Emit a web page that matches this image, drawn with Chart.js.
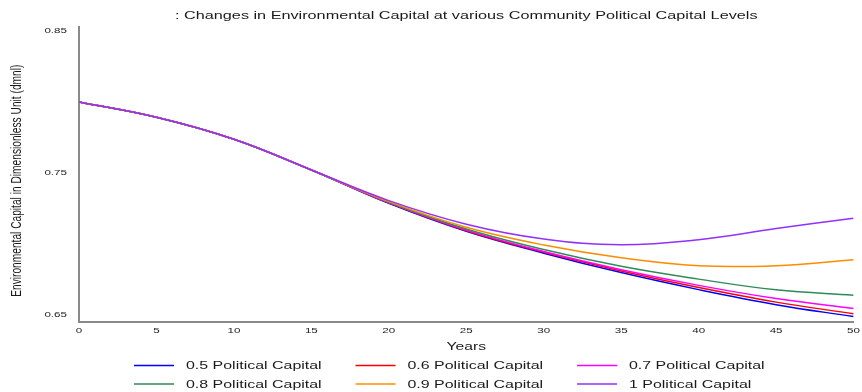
<!DOCTYPE html>
<html>
<head>
<meta charset="utf-8">
<script src="https://cdn.jsdelivr.net/npm/chart.js@4.4.1/dist/chart.umd.min.js"></script>
<style>
  html, body { margin: 0; padding: 0; background: #ffffff; }
  #wrap { position: relative; width: 862px; height: 392px; }
</style>
</head>
<body>
<div id="wrap"><canvas id="chart"></canvas></div>
<script>
// Simulation output: environmental capital (dmnl) every 5 years, one run per political capital level
const years = [0, 5, 10, 15, 20, 25, 30, 35, 40, 45, 50];

const seriesLabels = [
  '0.5 Political Capital',
  '0.6 Political Capital',
  '0.7 Political Capital',
  '0.8 Political Capital',
  '0.9 Political Capital',
  '1 Political Capital'
];

const pc05 = [0.800, 0.7892, 0.7737, 0.7521, 0.7286, 0.7089, 0.6935, 0.6798, 0.6678, 0.6572, 0.6488];
const pc06 = [0.800, 0.7892, 0.7737, 0.7521, 0.7289, 0.7093, 0.6941, 0.6810, 0.6693, 0.6590, 0.6508];
const pc07 = [0.800, 0.7892, 0.7737, 0.7521, 0.7291, 0.7097, 0.6946, 0.6818, 0.6708, 0.6615, 0.6545];
const pc08 = [0.800, 0.7892, 0.7737, 0.7521, 0.7294, 0.7105, 0.6960, 0.6842, 0.6752, 0.6677, 0.6639];
const pc09 = [0.800, 0.7892, 0.7737, 0.7521, 0.7298, 0.7117, 0.6992, 0.6902, 0.6846, 0.6847, 0.6888];
const pc10 = [0.800, 0.7892, 0.7737, 0.7521, 0.7305, 0.7139, 0.7035, 0.6995, 0.7030, 0.7108, 0.7181];

const xTickValues = [0, 5, 10, 15, 20, 25, 30, 35, 40, 45, 50];
const yTickValues = [0.65, 0.75, 0.85];

const seriesColors = ['#0000ff', '#ff0000', '#ff00ff', '#2e8b57', '#ff8c00', '#9130ff'];
const seriesValues = [pc05, pc06, pc07, pc08, pc09, pc10];

const FONT = '"Liberation Sans", Arial, Helvetica, sans-serif';
const TEXT_WIDEN = 1.45;   // horizontal scale applied to all lettering

const datasets = seriesValues.map((vals, i) => ({
  label: seriesLabels[i],
  data: years.map((yr, k) => ({ x: yr, y: vals[k] })),
  borderColor: seriesColors[i],
  backgroundColor: seriesColors[i],
  borderWidth: 1.5,
  pointRadius: 0,
  fill: false,
  tension: 0.4,
  order: seriesValues.length - i   // higher political capital runs drawn on top
}));

// Widened lettering, rotated y-axis caption and a three-column legend under the axis
const chartDecor = {
  id: 'chartDecor',
  afterInit(chart) {
    const ctx = chart.ctx;
    const plainFill = ctx.fillText.bind(ctx);
    ctx.plainFillText = plainFill;
    ctx.fillText = function (text, x, y) {
      this.save();
      this.translate(x, y);
      this.scale(TEXT_WIDEN, 1);
      plainFill(text, 0, 0);
      this.restore();
    };
  },
  afterDraw(chart) {
    const ctx = chart.ctx;
    const area = chart.chartArea;

    // legend: 3 columns x 2 rows
    ctx.save();
    ctx.font = '11px ' + FONT;
    ctx.textAlign = 'left';
    ctx.textBaseline = 'middle';
    const colStart = 134, colStep = 221.5, rowTop = 365.5, rowStep = 18.5;
    chart.data.datasets.forEach((ds, i) => {
      const col = i % 3, row = Math.floor(i / 3);
      const x = colStart + col * colStep;
      const y = rowTop + row * rowStep;
      ctx.strokeStyle = ds.borderColor;
      ctx.lineWidth = 1.5;
      ctx.beginPath();
      ctx.moveTo(x, y);
      ctx.lineTo(x + 40, y);
      ctx.stroke();
      ctx.fillStyle = '#1a1a1a';
      ctx.fillText(ds.label, x + 52, y + 0.5);
    });
    ctx.restore();

    // y-axis caption, glyphs widened across the screen x direction
    ctx.save();
    ctx.font = '10.2px ' + FONT;
    ctx.fillStyle = '#1a1a1a';
    ctx.textAlign = 'center';
    ctx.textBaseline = 'middle';
    ctx.translate(17, (area.top + area.bottom) / 2 + 6);
    ctx.scale(TEXT_WIDEN, 1);
    ctx.rotate(-Math.PI / 2);
    ctx.plainFillText('Environmental Capital in Dimensionless Unit (dmnl)', 0, 0);
    ctx.restore();
  }
};

new Chart(document.getElementById('chart'), {
  type: 'line',
  data: { datasets },
  options: {
    responsive: true,
    maintainAspectRatio: false,
    animation: false,
    layout: { padding: { left: 0, right: 6, top: 0, bottom: 36 } },
    plugins: {
      legend: { display: false },
      tooltip: { enabled: false },
      title: {
        display: true,
        fullSize: false,
        text: ': Changes in Environmental Capital at various Community Political Capital Levels',
        color: '#1a1a1a',
        font: { family: FONT, size: 11.2, weight: 'normal' },
        padding: { top: 9, bottom: 5 }
      }
    },
    scales: {
      x: {
        type: 'linear',
        min: 0,
        max: 50,
        afterBuildTicks: (scale) => { scale.ticks = xTickValues.map(v => ({ value: v })); },
        afterFit: (scale) => { scale.height = 34; },
        grid: { display: false, drawTicks: false },
        border: { display: true, color: '#8a8a8a', width: 2 },
        ticks: {
          color: '#222222',
          font: { family: FONT, size: 8 },
          padding: 4,
          autoSkip: false,
          maxRotation: 0
        },
        title: {
          display: true,
          text: 'Years',
          color: '#1a1a1a',
          font: { family: FONT, size: 10.8 },
          padding: { top: 0, bottom: 2 }
        }
      },
      y: {
        type: 'linear',
        min: 0.645,
        max: 0.8525,
        afterBuildTicks: (scale) => { scale.ticks = yTickValues.map(v => ({ value: v })); },
        afterFit: (scale) => { scale.width = 79; },
        grid: { display: false, drawTicks: false },
        border: { display: true, color: '#8a8a8a', width: 2 },
        ticks: {
          color: '#222222',
          font: { family: FONT, size: 8 },
          padding: 12,
          callback: (v) => Number(v).toFixed(2)
        },
        title: { display: false }
      }
    }
  },
  plugins: [chartDecor]
});
</script>
</body>
</html>
